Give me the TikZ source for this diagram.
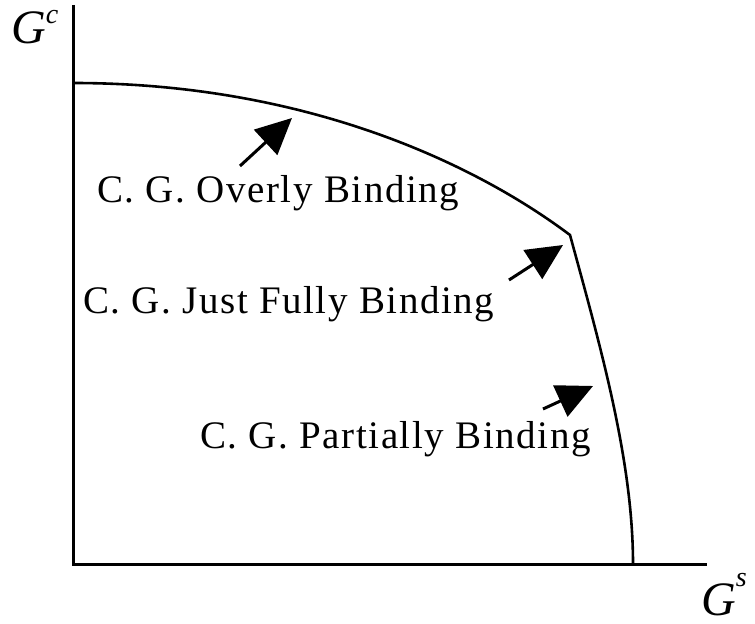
\documentclass[tikz,border=0pt]{standalone}
\usepackage{fontspec}
\setmainfont{Liberation Serif}
\usetikzlibrary{arrows.meta}
\begin{document}
\begin{tikzpicture}[x=1bp,y=-1bp,
  axis/.style={line width=3bp},
  curve/.style={line width=2.6bp},
  pointer/.style={line width=3bp,-{Triangle[length=36bp,width=34bp]}},
  lbl/.style={anchor=base west,inner sep=0pt,font=\fontsize{39bp}{42bp}\selectfont\addfontfeature{LetterSpace=4}},
  axl/.style={inner sep=0pt,font=\fontsize{48bp}{52bp}\selectfont}]
\useasboundingbox (0,0) rectangle (755,624);
\coordinate (top) at (73,5);
\coordinate (o) at (73,564);
\coordinate (right) at (707,564);
\draw[axis] (top) -- (o) -- (right);
\coordinate (c0) at (73,83);
\coordinate (k) at (570,235);
\coordinate (c1) at (633,564);
\draw[curve,line join=miter] (c0) .. controls (300,83) and (470,160) .. (k)
  .. controls (600,345) and (633,460) .. (c1);
\node[axl,anchor=base west] (gc) at (11,44) {\textit{G}\raisebox{0.42em}{\fontsize{28bp}{30bp}\selectfont\textit{c}}};
\node[axl,anchor=base west] (gs) at (701,615) {\textit{G}\raisebox{0.6em}{\fontsize{28bp}{30bp}\selectfont\textit{s}}};
\node[lbl] (t1) at (97,203) {C. G. Overly Binding};
\node[lbl] (t2) at (83,313) {C. G. Just Fully Binding};
\node[lbl] (t3) at (200,448) {C. G. Partially Binding};
\coordinate (a1s) at (240,166); \coordinate (a1e) at (292,118);
\coordinate (a2s) at (509,280); \coordinate (a2e) at (563,245);
\coordinate (a3s) at (543,409); \coordinate (a3e) at (593,386);
\draw[pointer] (a1s) -- (a1e);
\draw[pointer] (a2s) -- (a2e);
\draw[pointer] (a3s) -- (a3e);
\end{tikzpicture}
\end{document}
